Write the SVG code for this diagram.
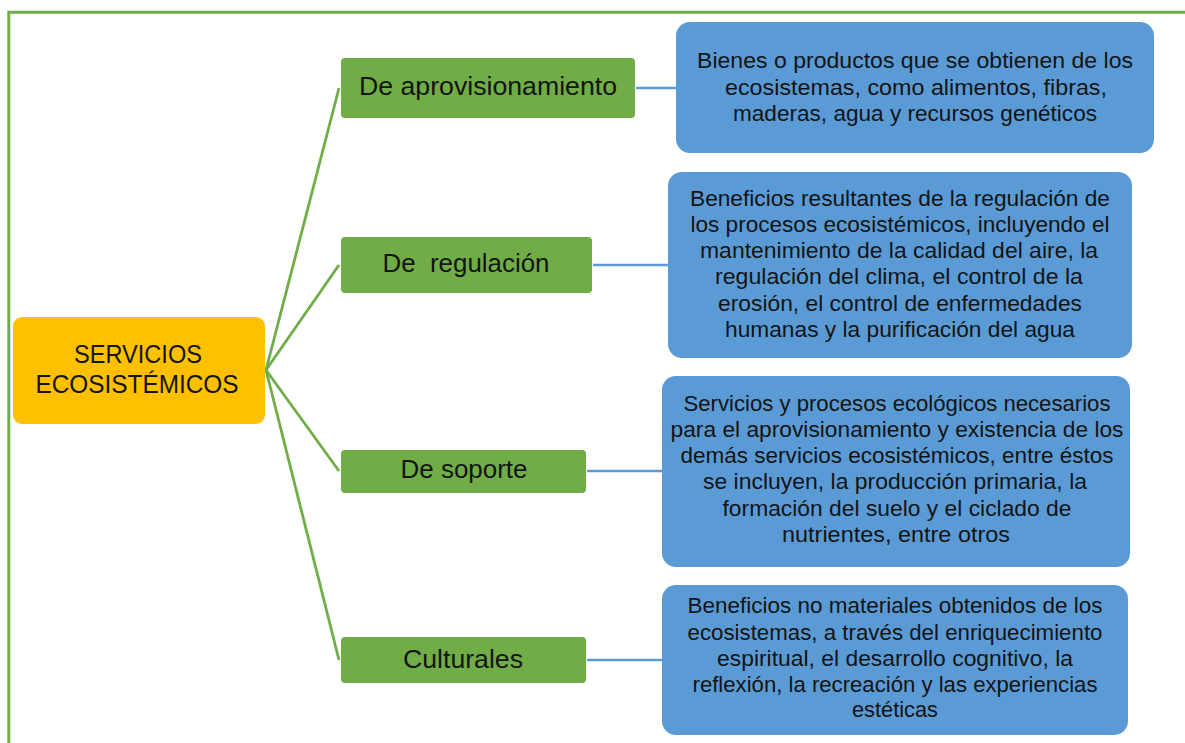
<svg xmlns="http://www.w3.org/2000/svg" width="1185" height="743" viewBox="0 0 1185 743">
<style>
.t{font-family:"Liberation Sans",Arial,sans-serif;fill:#141414;text-anchor:middle}
.b{font-size:22px}
.g{font-size:26px}
.r{font-size:26px}
.green{fill:#70AD47}
.blue{fill:#5B9BD5}
.gl{stroke:#70AD47;stroke-width:2.8;fill:none}
.bl{stroke:#5B9BD5;stroke-width:2.5;fill:none}
</style>
<rect width="1185" height="743" fill="#ffffff"/>
<g id="frame">
<path d="M8.8,743 V12.2 H1185" fill="none" stroke="#70AD47" stroke-width="3"/>
</g>
<g id="connectors">
<line class="gl" x1="266" y1="370" x2="339" y2="88"/>
<line class="gl" x1="266" y1="370" x2="339" y2="265"/>
<line class="gl" x1="266" y1="370" x2="339" y2="471"/>
<line class="gl" x1="266" y1="370" x2="339" y2="660"/>
<line class="bl" x1="636" y1="88" x2="676" y2="88"/>
<line class="bl" x1="593" y1="265" x2="668" y2="265"/>
<line class="bl" x1="587" y1="471" x2="662" y2="471"/>
<line class="bl" x1="587" y1="660" x2="662" y2="660"/>
</g>
<g id="root">
<rect x="13" y="317" width="252" height="107" rx="9" fill="#FFC000"/>
<text class="t r" x="138" y="363" textLength="128" lengthAdjust="spacingAndGlyphs">SERVICIOS</text>
<text class="t r" x="137" y="393" textLength="203" lengthAdjust="spacingAndGlyphs">ECOSISTÉMICOS</text>
</g>
<g id="aprov">
<rect class="green" x="341" y="58" width="294" height="60" rx="4"/>
<text class="t g" x="488" y="95" textLength="258" lengthAdjust="spacingAndGlyphs">De aprovisionamiento</text>
</g>
<g id="regulacion">
<rect class="green" x="341" y="237" width="251" height="56" rx="4"/>
<text class="t g" x="466" y="272" textLength="167" lengthAdjust="spacingAndGlyphs" xml:space="preserve">De  regulación</text>
</g>
<g id="soporte">
<rect class="green" x="341" y="450" width="245" height="43" rx="4"/>
<text class="t g" x="464" y="478" textLength="127" lengthAdjust="spacingAndGlyphs">De soporte</text>
</g>
<g id="culturales">
<rect class="green" x="341" y="637" width="245" height="46" rx="4"/>
<text class="t g" x="463" y="668" textLength="120" lengthAdjust="spacingAndGlyphs">Culturales</text>
</g>
<g id="desc-aprov">
<rect class="blue" x="676" y="22" width="478" height="131" rx="14"/>
<text class="t b" x="915" y="68" textLength="436" lengthAdjust="spacingAndGlyphs">Bienes o productos que se obtienen de los</text>
<text class="t b" x="916" y="95" textLength="382" lengthAdjust="spacingAndGlyphs">ecosistemas, como alimentos, fibras,</text>
<text class="t b" x="915" y="121" textLength="364" lengthAdjust="spacingAndGlyphs">maderas, agua y recursos genéticos</text>
</g>
<g id="desc-regulacion">
<rect class="blue" x="668" y="172" width="464" height="186" rx="14"/>
<text class="t b" x="900" y="206" textLength="420" lengthAdjust="spacingAndGlyphs">Beneficios resultantes de la regulación de</text>
<text class="t b" x="900" y="232" textLength="419" lengthAdjust="spacingAndGlyphs">los procesos ecosistémicos, incluyendo el</text>
<text class="t b" x="899" y="258" textLength="398" lengthAdjust="spacingAndGlyphs">mantenimiento de la calidad del aire, la</text>
<text class="t b" x="899" y="284" textLength="368" lengthAdjust="spacingAndGlyphs">regulación del clima, el control de la</text>
<text class="t b" x="900" y="311" textLength="364" lengthAdjust="spacingAndGlyphs">erosión, el control de enfermedades</text>
<text class="t b" x="900" y="337" textLength="350" lengthAdjust="spacingAndGlyphs">humanas y la purificación del agua</text>
</g>
<g id="desc-soporte">
<rect class="blue" x="662" y="376" width="468" height="191" rx="14"/>
<text class="t b" x="897" y="411" textLength="427" lengthAdjust="spacingAndGlyphs">Servicios y procesos ecológicos necesarios</text>
<text class="t b" x="897" y="437" textLength="453" lengthAdjust="spacingAndGlyphs">para el aprovisionamiento y existencia de los</text>
<text class="t b" x="897" y="463" textLength="433" lengthAdjust="spacingAndGlyphs">demás servicios ecosistémicos, entre éstos</text>
<text class="t b" x="895" y="489" textLength="384" lengthAdjust="spacingAndGlyphs">se incluyen, la producción primaria, la</text>
<text class="t b" x="897" y="516" textLength="349" lengthAdjust="spacingAndGlyphs">formación del suelo y el ciclado de</text>
<text class="t b" x="896" y="542" textLength="228" lengthAdjust="spacingAndGlyphs">nutrientes, entre otros</text>
</g>
<g id="desc-culturales">
<rect class="blue" x="662" y="585" width="466" height="150" rx="14"/>
<text class="t b" x="895" y="613" textLength="415" lengthAdjust="spacingAndGlyphs">Beneficios no materiales obtenidos de los</text>
<text class="t b" x="895" y="640" textLength="415" lengthAdjust="spacingAndGlyphs">ecosistemas, a través del enriquecimiento</text>
<text class="t b" x="895" y="666" textLength="356" lengthAdjust="spacingAndGlyphs">espiritual, el desarrollo cognitivo, la</text>
<text class="t b" x="895" y="692" textLength="405" lengthAdjust="spacingAndGlyphs">reflexión, la recreación y las experiencias</text>
<text class="t b" x="895" y="717" textLength="86" lengthAdjust="spacingAndGlyphs">estéticas</text>
</g>
</svg>
